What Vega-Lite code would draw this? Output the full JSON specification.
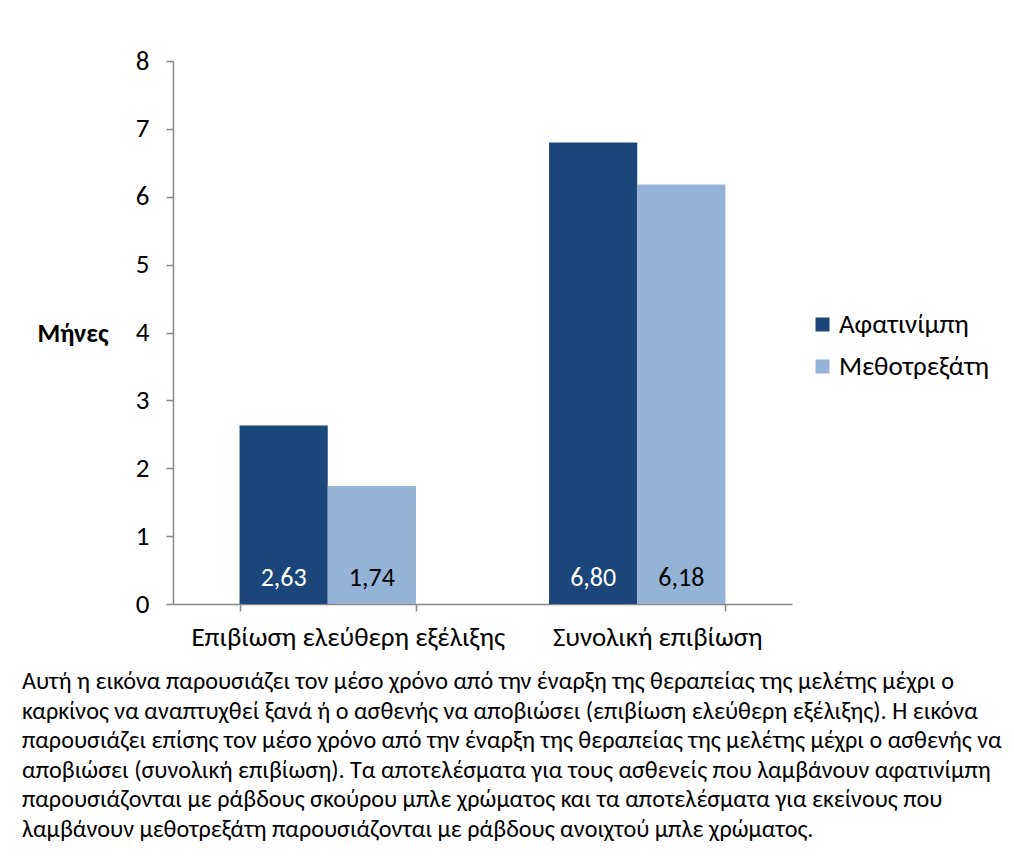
{
  "$schema": "https://vega.github.io/schema/vega-lite/v6.json",
  "width": 619,
  "height": 543,
  "autosize": {"type": "none"},
  "padding": {"left": 173, "top": 61, "right": 222, "bottom": 253},
  "background": "white",
  "config": {
    "view": {"stroke": null},
    "font": "Carlito, Liberation Sans, sans-serif",
    "locale": {"number": {"decimal": ",", "thousands": ".", "grouping": [3], "currency": ["", " €"]}}
  },
  "title": {
    "text": [
      "Αυτή  η εικόνα παρουσιάζει τον μέσο χρόνο από την έναρξη της θεραπείας της μελέτης μέχρι ο",
      "καρκίνος να αναπτυχθεί ξανά ή ο ασθενής να αποβιώσει (επιβίωση ελεύθερη εξέλιξης). Η εικόνα",
      "παρουσιάζει επίσης τον μέσο χρόνο από την έναρξη της θεραπείας της μελέτης μέχρι ο ασθενής να",
      "αποβιώσει (συνολική επιβίωση). Τα αποτελέσματα για τους  ασθενείς που λαμβάνουν αφατινίμπη",
      "παρουσιάζονται με ράβδους σκούρου μπλε χρώματος και τα αποτελέσματα για εκείνους που",
      "λαμβάνουν μεθοτρεξάτη παρουσιάζονται με ράβδους ανοιχτού μπλε χρώματος."
    ],
    "orient": "bottom",
    "anchor": "start",
    "frame": "group",
    "align": "left",
    "baseline": "top",
    "dx": -151,
    "offset": 20,
    "lineHeight": 29.6,
    "fontSize": 24.2,
    "fontWeight": "normal",
    "font": "Carlito, Liberation Sans, sans-serif",
    "color": "#000000"
  },
  "data": {
    "values": [
      {"endpoint": "Επιβίωση ελεύθερη εξέλιξης", "drug": "Αφατινίμπη", "months": 2.63},
      {"endpoint": "Επιβίωση ελεύθερη εξέλιξης", "drug": "Μεθοτρεξάτη", "months": 1.74},
      {"endpoint": "Συνολική επιβίωση", "drug": "Αφατινίμπη", "months": 6.80},
      {"endpoint": "Συνολική επιβίωση", "drug": "Μεθοτρεξάτη", "months": 6.18}
    ]
  },
  "encoding": {
    "x": {
      "field": "endpoint",
      "type": "nominal",
      "sort": null,
      "scale": {"paddingInner": 0.43, "paddingOuter": 0.215},
      "axis": {
        "title": null,
        "labelAngle": 0,
        "labelFontSize": 27,
        "labelLimit": 0,
        "labelColor": "#000000",
        "labelPadding": 13,
        "labelOffset": 20,
        "domainColor": "#868686",
        "domainWidth": 1.5,
        "tickColor": "#868686",
        "tickWidth": 1.5,
        "tickSize": 7,
        "tickBand": "extent"
      }
    },
    "xOffset": {"field": "drug", "type": "nominal", "sort": null, "scale": {"paddingInner": 0, "paddingOuter": 0}}
  },
  "layer": [
    {
      "mark": {"type": "bar"},
      "encoding": {
        "y": {
          "field": "months",
          "type": "quantitative",
          "scale": {"domain": [0, 8], "nice": false},
          "axis": {
            "values": [0, 1, 2, 3, 4, 5, 6, 7, 8],
            "format": "d",
            "grid": false,
            "title": "Μήνες",
            "titleAngle": 0,
            "titleFontSize": 26,
            "titleFontWeight": "bold",
            "titleColor": "#000000",
            "titleAlign": "left",
            "titleBaseline": "middle",
            "titleX": -136,
            "titleY": 272,
            "labelFontSize": 27,
            "labelColor": "#000000",
            "labelPadding": 17,
            "domainColor": "#868686",
            "domainWidth": 1.5,
            "tickColor": "#868686",
            "tickWidth": 1.5,
            "tickSize": 7
          }
        },
        "color": {
          "field": "drug",
          "type": "nominal",
          "sort": null,
          "scale": {"range": ["#1B4679", "#94B3D6"]},
          "legend": {
            "title": null,
            "orient": "none",
            "legendX": 636,
            "legendY": 250,
            "symbolType": "square",
            "symbolSize": 196,
            "symbolStrokeWidth": 0,
            "labelFontSize": 27,
            "labelLimit": 0,
            "labelColor": "#000000",
            "labelOffset": 3,
            "rowPadding": 14
          }
        }
      }
    },
    {
      "mark": {"type": "text", "fontSize": 26, "baseline": "middle", "align": "center", "dy": -26},
      "encoding": {
        "y": {"datum": 0, "type": "quantitative"},
        "text": {"field": "months", "type": "quantitative", "format": ".2f"},
        "color": {
          "condition": {"test": "datum.drug === 'Αφατινίμπη'", "value": "#FFFFFF"},
          "value": "#000000"
        }
      }
    }
  ]
}
